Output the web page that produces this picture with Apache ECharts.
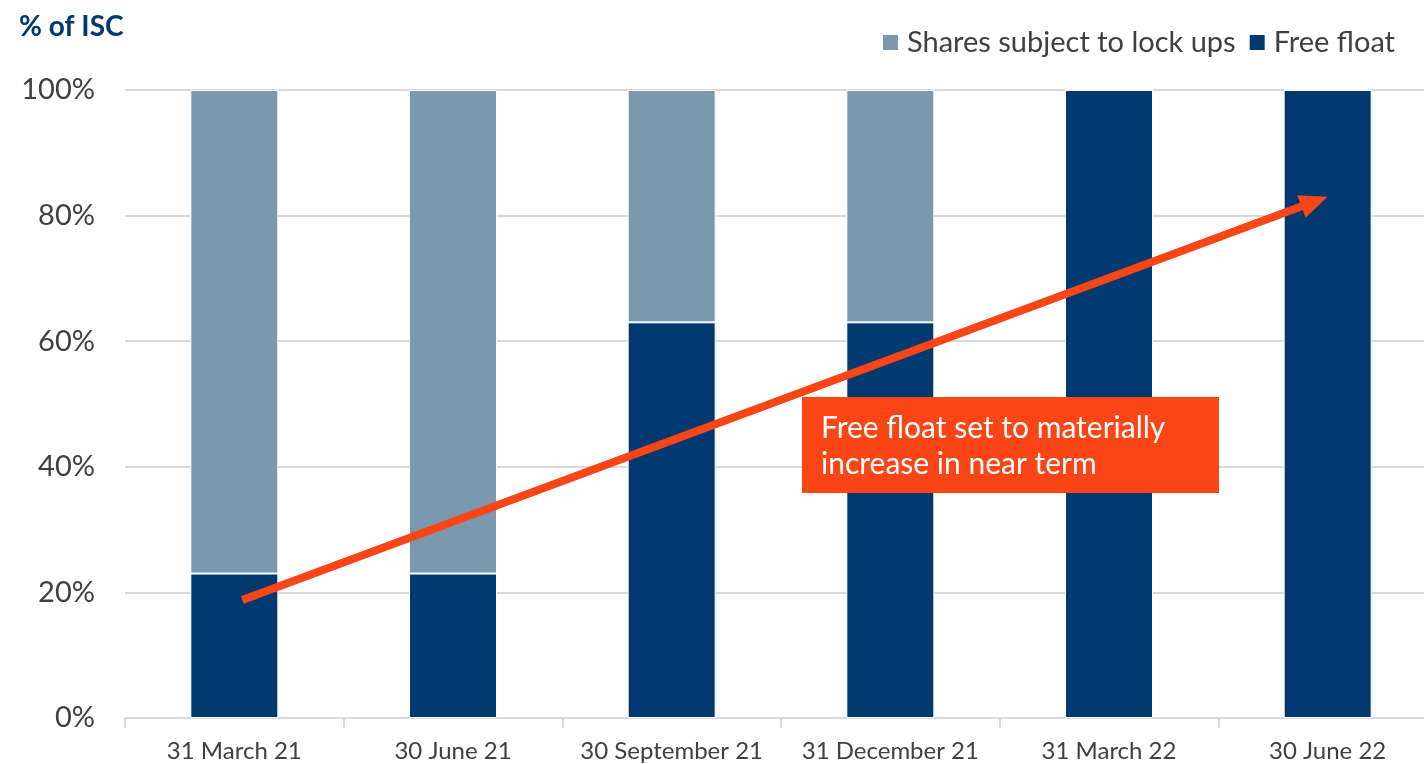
<!DOCTYPE html>
<html>
<head>
<meta charset="utf-8">
<script src="https://cdn.jsdelivr.net/npm/echarts@6/dist/echarts.min.js"></script>
<style>
  html, body { margin: 0; padding: 0; background: #fff; }
  #chart { width: 1424px; height: 764px; }
</style>
</head>
<body>
<div id="chart"></div>
<script>
// data
const categories = ['31 March 21', '30 June 21', '30 September 21', '31 December 21', '31 March 22', '30 June 22'];
const freeFloat = [23, 23, 63, 63, 100, 100];
const lockUps = [77, 77, 37, 37, 0, 0];
const yTicks = [0, 20, 40, 60, 80, 100];
// arrow from / to, as [category index, %]
const arrowFrom = [0, 18.8];
const arrowTo = [5, 83];
const noteText = 'Free float set to materially\nincrease in near term';

const FONT = 'Lato, "Open Sans", sans-serif';
const navy = '#003870';
const grey = '#7a99ae';
const orange = '#fa4616';

const chart = echarts.init(document.getElementById('chart'));

let option = {
  animation: false,
  textStyle: { fontFamily: FONT },
  title: {
    text: '% of ISC',
    left: 14, top: 8,
    textStyle: { fontFamily: FONT, fontSize: 28, fontWeight: 'bold', color: navy }
  },
  legend: {
    right: 24, top: 23,
    itemWidth: 17, itemHeight: 17, itemGap: 12,
    icon: 'rect',
    data: ['Shares subject to lock ups', 'Free float'],
    textStyle: { fontFamily: FONT, fontSize: 29, color: '#404040', padding: [0, 0, 0, 3] }
  },
  grid: { left: 125, right: -13, top: 90, bottom: 46, outerBoundsMode: 'none' },
  xAxis: {
    type: 'category',
    data: categories,
    axisLine: { lineStyle: { color: '#d9d9d9', width: 2 } },
    axisTick: { show: true, length: 10, lineStyle: { color: '#d9d9d9', width: 2 } },
    axisLabel: { fontFamily: FONT, fontSize: 24, color: '#404040', margin: 21, interval: 0 }
  },
  yAxis: {
    type: 'value',
    min: 0, max: 100, interval: 20,
    axisLine: { show: false },
    axisTick: { show: false },
    splitLine: { lineStyle: { color: '#d9d9d9', width: 2 } },
    axisLabel: {
      fontFamily: FONT, fontSize: 29, color: '#404040', margin: 30,
      formatter: v => yTicks.includes(v) ? v + '%' : ''
    }
  },
  series: [
    {
      name: 'Free float',
      type: 'bar',
      stack: 'total',
      barWidth: 88,
      data: freeFloat,
      itemStyle: { color: navy, borderColor: '#fff', borderWidth: 1 }
    },
    {
      name: 'Shares subject to lock ups',
      type: 'bar',
      stack: 'total',
      barWidth: 88,
      data: lockUps,
      itemStyle: { color: grey, borderColor: '#fff', borderWidth: 1 }
    }
  ]
};

chart.setOption(option);

// arrow + note drawn on top, placed through the chart's own scales
const p0 = chart.convertToPixel({ gridIndex: 0 }, arrowFrom);
const p1 = chart.convertToPixel({ gridIndex: 0 }, arrowTo);
p0[0] += 8;
const ang = Math.atan2(p1[1] - p0[1], p1[0] - p0[0]);
const headLen = 28, headHalf = 12;
const baseX = p1[0] - headLen * Math.cos(ang);
const baseY = p1[1] - headLen * Math.sin(ang);
const nx = -Math.sin(ang), ny = Math.cos(ang);

chart.setOption({
  graphic: [
    {
      type: 'line', z: 100,
      shape: { x1: p0[0], y1: p0[1], x2: baseX + 2 * Math.cos(ang), y2: baseY + 2 * Math.sin(ang) },
      style: { stroke: orange, lineWidth: 8 }
    },
    {
      type: 'polygon', z: 100,
      shape: { points: [[p1[0], p1[1]], [baseX + nx * headHalf, baseY + ny * headHalf], [baseX - nx * headHalf, baseY - ny * headHalf]] },
      style: { fill: orange }
    },
    {
      type: 'rect', z: 101,
      shape: { x: 802, y: 397, width: 417, height: 96 },
      style: { fill: orange }
    },
    {
      type: 'text', z: 102,
      x: 821, y: 410,
      style: { text: noteText, fill: '#fff', font: '30px ' + FONT, lineHeight: 36 }
    }
  ]
});
</script>
</body>
</html>
